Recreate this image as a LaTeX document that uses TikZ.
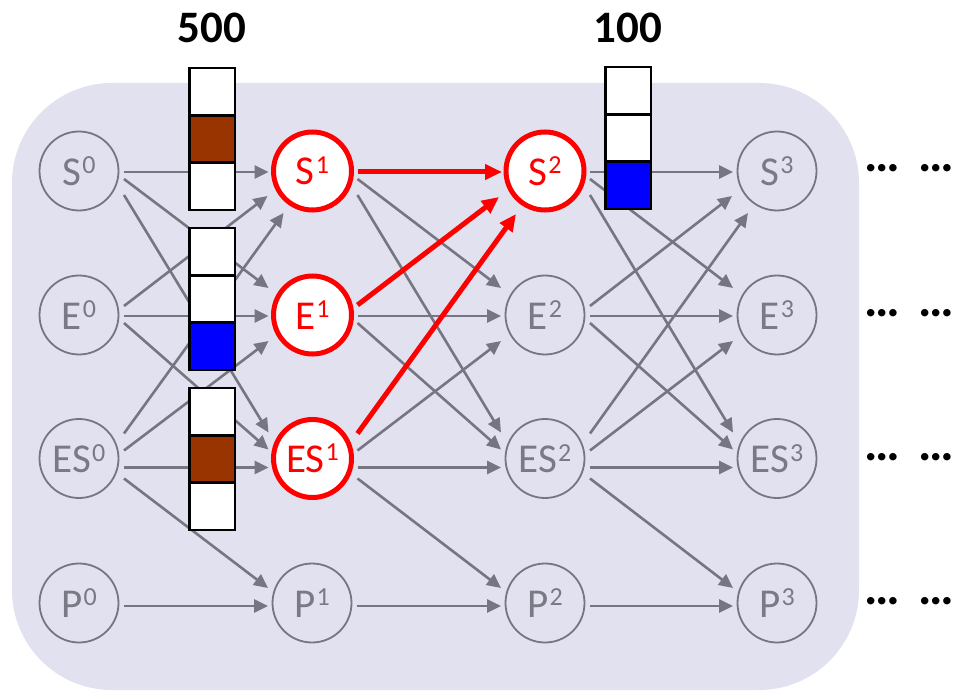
\documentclass[tikz,border=0pt]{standalone}
\usepackage{fontspec}
\setmainfont{Carlito}
\usetikzlibrary{arrows.meta}
\definecolor{panel}{RGB}{225,225,239}
\definecolor{wire}{RGB}{118,118,130}
\definecolor{label}{RGB}{122,122,134}
\definecolor{rust}{RGB}{153,51,0}
% raised time index after a state letter
\newcommand\idx[1]{\kern1pt\raisebox{11.5pt}{\fontsize{26}{26}\selectfont #1}}

\begin{document}
\begin{tikzpicture}[x=1pt,y=-1pt,
  state/.style={circle, draw=wire, line width=1.8pt, minimum size=79pt, inner sep=0pt,
                text=label, font=\fontsize{41}{41}\selectfont},
  hot/.style={state, draw=red, fill=white, text=red, line width=5pt, minimum size=78pt},
  flow/.style={draw=wire, line width=2.6pt, -{Triangle[length=14pt,width=13pt]}},
  hotflow/.style={draw=red, line width=5pt, -{Triangle[length=17pt,width=15pt]}},
  cell/.style={draw=black, line width=2.5pt, fill=white, minimum width=45.5pt,
               minimum height=47.2pt, inner sep=0pt},
  count/.style={font=\fontsize{45}{45}\selectfont\bfseries, inner sep=0pt},
  more/.style={font=\fontsize{50}{50}\selectfont\bfseries, inner sep=0pt, anchor=base west}
]
\useasboundingbox (0,0) rectangle (963,692);

% shaded panel behind the state lattice
\fill[panel, rounded corners=100pt] (12,83) rectangle (859,690);

% states, one column per time step
\node[state] (s0)  at (79,171)  {S\idx{0}};
\node[state] (e0)  at (79,315)  {E\idx{0}};
\node[state] (es0) at (79,458.5){ES\idx{0}};
\node[state] (p0)  at (79,603)  {P\idx{0}};

\node[hot]   (s1)  at (312.5,171)  {S\idx{1}};
\node[hot]   (e1)  at (312.5,315)  {E\idx{1}};
\node[hot]   (es1) at (312.5,458.5){ES\idx{1}};
\node[state] (p1)  at (312,603)    {P\idx{1}};

\node[hot]   (s2)  at (545,171)  {S\idx{2}};
\node[state] (e2)  at (545,315)  {E\idx{2}};
\node[state] (es2) at (545,458.5){ES\idx{2}};
\node[state] (p2)  at (545,603)  {P\idx{2}};

\node[state] (s3)  at (777,171)  {S\idx{3}};
\node[state] (e3)  at (777,315)  {E\idx{3}};
\node[state] (es3) at (777,458.5){ES\idx{3}};
\node[state] (p3)  at (777,603)  {P\idx{3}};

% transitions into E, ES and P
\foreach \i/\j in {0/1,1/2,2/3}{
  \draw[flow] ([shift={(45,8)}]s\i.center)   -- ([shift={(-44,-27)}]e\j.center);
  \draw[flow] ([shift={(45,24)}]s\i.center)  -- ([shift={(-44,-26)}]es\j.center);
  \draw[flow] ([shift={(45,1)}]e\i.center)   -- ([shift={(-44,1)}]e\j.center);
  \draw[flow] ([shift={(45,8)}]e\i.center)   -- ([shift={(-44,-9)}]es\j.center);
  \draw[flow] ([shift={(45,-8)}]es\i.center) -- ([shift={(-44,26)}]e\j.center);
  \draw[flow] ([shift={(45,9)}]es\i.center)  -- ([shift={(-44,9)}]es\j.center);
  \draw[flow] ([shift={(45,20)}]es\i.center) -- ([shift={(-44,-15)}]p\j.center);
  \draw[flow] ([shift={(45,3)}]p\i.center)   -- ([shift={(-44,3)}]p\j.center);
}
% transitions into S
\foreach \i/\j in {0/1,2/3}{
  \draw[flow] ([shift={(45,1)}]s\i.center)    -- ([shift={(-44,1)}]s\j.center);
  \draw[flow] ([shift={(45,-9)}]e\i.center)   -- ([shift={(-45,25)}]s\j.center);
  \draw[flow] ([shift={(45,-25)}]es\i.center) -- ([shift={(-29,42)}]s\j.center);
}
% highlighted paths into S2
\draw[hotflow] ([shift={(45,1)}]s1.center)    -- ([shift={(-43,1)}]s2.center);
\draw[hotflow] ([shift={(45,-10)}]e1.center)  -- ([shift={(-46,26)}]s2.center);
\draw[hotflow] ([shift={(45,-25)}]es1.center) -- ([shift={(-29,43)}]s2.center);

% three-slot buffers
\node[cell]            (a1) at (212,91.8)  {};
\node[cell, fill=rust] (a2) at (212,139)   {};
\node[cell]            (a3) at (212,186.2) {};

\node[cell]            (b1) at (212,251.8) {};
\node[cell]            (b2) at (212,299)   {};
\node[cell, fill=blue] (b3) at (212,346.2) {};

\node[cell]            (c1) at (212,411.8) {};
\node[cell, fill=rust] (c2) at (212,459)   {};
\node[cell]            (c3) at (212,506.2) {};

\node[cell]            (d1) at (628,90.8)  {};
\node[cell]            (d2) at (628,138)   {};
\node[cell, fill=blue] (d3) at (628,185.2) {};

% buffer sizes
\node[count] (n500) at (212,27.5) {500};
\node[count] (n100) at (628,27.5) {100};

% continuation marks
\node[more] (m1) at (864,172)   {…\hspace{19pt}…};
\node[more] (m2) at (864,316.5) {…\hspace{19pt}…};
\node[more] (m3) at (864,460)   {…\hspace{19pt}…};
\node[more] (m4) at (864,604.5) {…\hspace{19pt}…};
\end{tikzpicture}
\end{document}
